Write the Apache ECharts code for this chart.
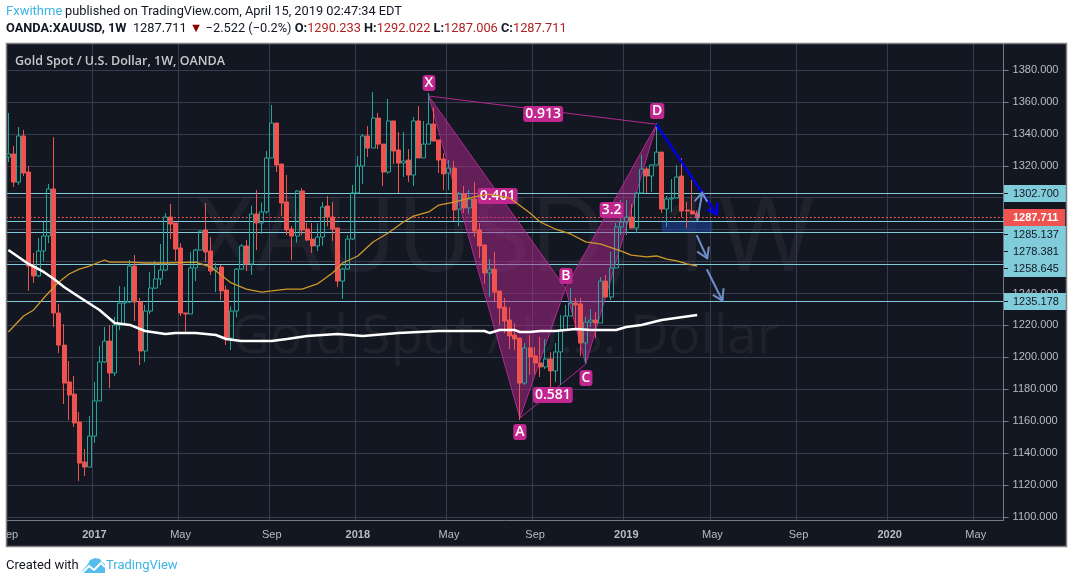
<!DOCTYPE html>
<html>
<head>
<meta charset="utf-8">
<title>XAUUSD 1W</title>
<script src="https://cdn.jsdelivr.net/npm/echarts@6/dist/echarts.min.js"></script>
<style>
  html, body { margin: 0; padding: 0; background: #fff; }
  #main { width: 1073px; height: 584px; }
</style>
</head>
<body>
<div id="main"></div>
<script>
// weekly candles, first week 2016-09-05, last 2019-04-15
var opens = [1325.5,1327.4,1309.8,1338.7,1316.1,1257.2,1251,1266.6,1276,1305.5,1227.8,1207.7,1184.6,1177,1159.5,1134.5,1131.3,1150.7,1172.7,1197.1,
  1210.2,1190.2,1220.3,1234,1234.7,1257.2,1234.7,1204,1229,1243.4,1249.1,1254.7,1287.9,1284.2,1268.5,1227.8,1227.2,1256,1267.2,1279.8,
  1266.6,1254.7,1256.6,1242.2,1212.1,1229,1255.3,1269.8,1258.5,1289.8,1284.2,1291.1,1324.9,1346.8,1321.1,1297.3,1280.4,1276,1304.2,1280.4,
  1274.1,1269.8,1275.4,1294.8,1287.9,1281,1247.8,1255.3,1274.1,1303,1319.9,1338.7,1331.1,1349.9,1333.6,1316.1,1348.1,1329.9,1321.7,1323.6,
  1314.2,1348.1,1324.9,1333.6,1346.2,1336.2,1324.3,1315.5,1318.6,1292.9,1302.3,1293.6,1299.2,1279.8,1270.4,1252.8,1255.3,1241.6,1231.5,1223.4,
  1214,1212.1,1183.9,1205.9,1200.9,1196.5,1194,1199,1191.5,1203.4,1217.1,1225.9,1234,1233.4,1209,1222.1,1223.4,1221.5,1247.8,1237.8,
  1256,1281.7,1284.8,1287.9,1281,1303,1318,1313.6,1320.5,1328.6,1292.9,1299.2,1299.8,1313.6,1292.3,1291.7,1290.233];
var closes = [1327.4,1309.8,1338.7,1315.5,1257.2,1251,1266.6,1276,1305.5,1227.8,1207.7,1183.9,1176.4,1158.9,1133.8,1131.3,1150.7,1172.7,1197.1,1210.2,
  1190.2,1220.3,1234,1234.7,1257.2,1234.7,1204,1229,1243.4,1249.1,1254.7,1287.9,1283.5,1267.9,1227.8,1227.2,1256,1267.2,1279.2,1266,
  1254.1,1256,1241.6,1212.1,1229,1255.3,1269.8,1258.5,1289.8,1284.2,1291.1,1324.9,1346.8,1320.5,1296.7,1279.8,1276,1304.2,1279.8,1273.5,
  1269.8,1275.4,1294.2,1287.9,1280.4,1247.8,1255.3,1274.1,1303,1319.9,1338.7,1331.1,1349.9,1333.6,1316.1,1348.1,1329.3,1321.7,1323,1314.2,
  1348.1,1324.9,1333.6,1346.2,1335.5,1323.6,1314.9,1318.6,1292.3,1302.3,1293.6,1299.2,1279.2,1269.8,1252.8,1255.3,1240.9,1230.9,1222.8,1213.4,
  1211.5,1183.9,1205.9,1200.2,1196.5,1194,1199,1191.5,1203.4,1217.1,1225.9,1234,1232.8,1209,1222.1,1223.4,1221.5,1247.8,1237.8,1256,
  1281.7,1284.8,1287.9,1281,1303,1318,1313.6,1320.5,1328.6,1292.9,1299.2,1299.8,1313,1291.7,1291.7,1289.8,1287.711];
var lows = [1322.4,1306.7,1308,1313.6,1241.6,1246.6,1250.3,1260.4,1271.6,1219,1202.7,1170.8,1160.8,1156.4,1122.6,1125.7,1131.3,1146.4,1172.7,1196.5,
  1180.8,1188.3,1217.1,1220.3,1234,1222.8,1195.2,1197.1,1227.2,1242.8,1245.3,1254.1,1274.1,1260.4,1225.9,1215.3,1227.2,1247.8,1267.2,1259.7,
  1251.6,1240.9,1235.9,1207.7,1204.6,1225,1255,1254.1,1251.6,1267.2,1277.3,1290,1324.9,1316.1,1288.5,1276.6,1261,1272,1276.6,1273,
  1265.4,1266.6,1270,1282,1273,1244.1,1236.6,1255,1273.5,1303,1308.6,1325.5,1331.1,1330.5,1307.3,1314.9,1321.1,1303,1313,1309.8,
  1307.3,1324.9,1324.9,1333.6,1335.5,1315.5,1304.8,1304.8,1285.4,1282.3,1290.4,1289.8,1275.4,1262.2,1246,1237.8,1234.7,1220.3,1215.3,1205.2,
  1204.6,1160.8,1182.7,1189,1189.6,1187.7,1192.7,1181.4,1184.6,1182.7,1217.1,1225.9,1217,1200.9,1196.5,1219,1212.1,1221.5,1237.8,1235.9,
  1256,1276.6,1276.6,1281,1277.9,1303,1303,1303.6,1320.5,1290.4,1281.7,1291,1299.8,1287.9,1281,1289.8,1287.006];
var highs = [1353.1,1332.4,1344.3,1342.4,1319.9,1265.4,1274.8,1284.8,1308.6,1338,1233.4,1220.9,1197.7,1188.3,1165.8,1142.6,1163.3,1184.6,1207.1,1219,
  1220.3,1225.3,1244.7,1244.1,1261,1264.1,1237.2,1232.8,1253.5,1260.4,1271,1290.4,1296.1,1284.2,1271.6,1227.8,1266,1268,1279.5,1296.7,
  1275.4,1259.1,1257.9,1245,1232,1256,1271,1273.5,1295,1304.8,1297,1329.3,1358.1,1346.8,1321.1,1314.2,1282.3,1304.8,1306.1,1284.2,
  1284.2,1284,1297.3,1301,1297.3,1281,1256,1276.6,1308,1326.1,1339.9,1344.9,1366.2,1353.1,1333.6,1361.8,1348.1,1341.2,1341.2,1330.5,
  1350.6,1357.4,1348,1365.6,1356.8,1336.2,1328,1323.6,1323,1303.6,1307.3,1304.8,1309.8,1284.2,1270.4,1261.6,1266,1241.6,1237.2,1231.5,
  1221.5,1212.1,1209,1214,1206.5,1212.8,1211.5,1203.4,1209,1226.5,1232.8,1243.4,1237.2,1237.2,1225.3,1230.3,1228.4,1250.3,1251.6,1266,
  1284.2,1298.6,1298.6,1296.1,1303,1326.8,1319.2,1321,1346.8,1328.6,1301.1,1311.7,1320.5,1324.9,1297.3,1311.1,1292.022];

// moving averages, read at the bends: week number + price
var maOrangeWeeks = [0,3,5,7,9,10,12,14,16,19,20,24,27,31,37,40,42,44,47,50,52,55,57,58,61,64,66,69,72,75,78,80,83,85,88,92,95,99,103,105,108,111,114,117,121,123,126,128,130,132,134,136];
var maOrange = [1215.9,1225.9,1229.7,1237.2,1244.1,1247.2,1252.2,1255.3,1257.2,1261,1259.7,1259.7,1259.1,1259.1,1259.7,1256.6,1251.6,1246.6,1242.8,1240.9,1241.6,1242.8,1242.8,1242.8,1246,1252.8,1259.1,1263.5,1272.3,1277.9,1284.8,1288.5,1291.1,1295.4,1297.3,1300.5,1302.3,1299.8,1290.4,1284.8,1280.4,1277.3,1272.3,1271,1266.6,1264.1,1262.9,1263.5,1261.6,1260.4,1258.5,1257.2];
var maWhiteWeeks = [0,2,4,7,9,11,14,18,21,24,27,31,33,37,41,43,46,52,55,59,65,70,77,85,94,95,97,100,101,103,105,108,112,115,120,122,125,129,136];
var maWhite = [1267.2,1262.9,1258.5,1253.5,1249.1,1244.1,1237.8,1229.7,1221.5,1220.3,1216.5,1214.6,1215.3,1215.3,1214,1211.5,1210.2,1210.2,1211.5,1213.4,1214.6,1213.4,1215.3,1216.5,1216.5,1215.3,1217.1,1217.1,1215.9,1215.9,1216.5,1216.5,1217.8,1217.1,1217.1,1219,1220.3,1223.4,1226.5];

// horizontal levels and axes
var levelPrices = [1302.7,1285.137,1278.381,1258.645,1235.178];
var lastPrice = 1287.711;
var boxWeeks = [129,139];
var boxPrices = [1284.8,1278.5];
var priceTicks = [1100,1120,1140,1160,1180,1200,1220,1240,1260,1280,1300,1320,1340,1360,1380];
var weekCount = 197;
var timeTickWeeks = [0,17,34,52,69,87,104,122,139,156,174,191];
var timeTickLabels = ['Sep','2017','May','Sep','2018','May','Sep','2019','May','Sep','2020','May'];

// harmonic pattern X A B C D
var patternWeeks = [83,101,110,114,128];
var patternPrices = [1363.7,1162,1243.4,1195.8,1346];
// pills on the pattern
var pillTexts = ['X','A','B','C','D','0.913','0.401','0.581','3.2'];
var pillWeeks = [83.05,101,110.1,114.05,128.1,105.6,96.6,107.5,119.1];
var pillPrices = [1371.9,1153.3,1251,1187.1,1354.3,1352.5,1301.1,1176.4,1292.3];
// hand drawn arrows: shaft and head, week number + price
var arrows = [
  {color:'#0000e6', width:2.5,
    weeks:[127.9,139.86], prices:[1346,1289.6], headWeeks:[137.9,139.86,140], headPrices:[1292.7,1289.6,1296.9]},
  {color:'#6f8fc9', width:2,
    weeks:[136,137], prices:[1285.6,1302.8], headWeeks:[135.5,137,138], headPrices:[1297.9,1303.1,1297.5]},
  {color:'#6f8fc9', width:2,
    weeks:[135.9,138], prices:[1276.6,1262.1], headWeeks:[136,138,138.3], headPrices:[1266.2,1262.1,1269.3]},
  {color:'#6f8fc9', width:2,
    weeks:[137.9,141], prices:[1255.2,1235.5], headWeeks:[139.1,141,141.2], headPrices:[1239.1,1235.5,1243.3]}
];

var categories = [];
for (var w = 0; w < weekCount; w++) {
  var d = new Date(Date.UTC(2016, 8, 5 + w * 7));
  categories.push(d.toISOString().slice(0, 10));
}

function pairs(xs, ys) {
  return xs.map(function (x, i) { return [x, ys[i]]; });
}

// category scale rounds to whole weeks, so add the fraction back by hand
function coordAt(api, x, y) {
  var base = Math.floor(x);
  var p = api.coord([base, y]);
  p[0] += (x - base) * api.size([1, 0])[0];
  return p;
}

var myChart = echarts.init(document.getElementById('main'));

var sansFont = '"Liberation Sans", Arial, sans-serif';
var headFont = '"Open Sans", sans-serif';
var topFont = 'Roboto, sans-serif';
var dark = '#131722';
var labelBlue = '#80ccdb';

// right hand price tags
var tagElements = [
  {type:'rect', z:20, shape:{x:1004,y:185,width:62,height:17}, style:{fill:labelBlue}},
  {type:'rect', z:20, shape:{x:1004,y:226,width:62,height:51}, style:{fill:labelBlue}},
  {type:'rect', z:20, shape:{x:1004,y:293,width:62,height:17}, style:{fill:labelBlue}},
  {type:'rect', z:21, shape:{x:1004,y:209,width:61,height:17}, style:{fill:'#ef5350'}},
  {type:'text', z:22, x:1013, y:217.5, style:{text:lastPrice.toFixed(3), fill:'#fff', font:'bold 11px '+sansFont, textVerticalAlign:'middle'}}
];
var tagYs = [193,234,251,268,301];
levelPrices.forEach(function (v, i) {
  tagElements.push({type:'text', z:22, x:1013, y:tagYs[i]+0.5, style:{text:v.toFixed(3), fill:dark, font:'11px '+sansFont, textVerticalAlign:'middle'}});
  tagElements.push({type:'rect', z:22, shape:{x:1004,y:tagYs[i],width:4,height:1}, style:{fill:dark}});
});

var option = {
  animation: false,
  backgroundColor: '#fff',
  grid: {left: 5.8, top: 44, width: 997.8, height: 476, containLabel: false, outerBoundsMode: 'none'},
  xAxis: {
    type: 'category',
    data: categories,
    boundaryGap: true,
    axisLine: {lineStyle: {color: '#787b86'}},
    axisTick: {
      alignWithLabel: true, length: 4, lineStyle: {color: '#787b86'},
      interval: function (i) { return timeTickWeeks.indexOf(i) >= 0; }
    },
    splitLine: {
      show: true, lineStyle: {color: '#363c4e'},
      interval: function (i) { return timeTickWeeks.indexOf(i) >= 0; }
    },
    axisLabel: {
      margin: 9, fontSize: 11, fontFamily: sansFont, color: '#b9bcc4',
      interval: function (i) { return timeTickWeeks.indexOf(i) >= 0; },
      formatter: function (v, i) {
        var t = timeTickLabels[timeTickWeeks.indexOf(i)];
        return /^\d/.test(t) ? '{y|' + t + '}' : t;
      },
      rich: {y: {fontWeight: 'bold', fontSize: 11, fontFamily: sansFont, color: '#b9bcc4'}}
    }
  },
  yAxis: {
    type: 'value',
    position: 'right',
    min: 1098.12,
    max: 1396.3,
    scale: true,
    axisLine: {show: true, lineStyle: {color: '#787b86'}},
    axisTick: {show: true, length: 5, lineStyle: {color: '#787b86'}, customValues: priceTicks},
    splitLine: {show: true, lineStyle: {color: '#363c4e'}},
    axisLabel: {
      margin: 9, fontSize: 11, fontFamily: sansFont, color: '#b9bcc4',
      padding: [2, 0, 0, 0],
      customValues: priceTicks,
      formatter: function (v) { return v.toFixed(3); }
    }
  },
  series: [
    {
      name: 'levels',
      type: 'line',
      data: [],
      z: 1,
      markLine: {
        z: 1, silent: true, symbol: 'none', animation: false,
        label: {show: false},
        lineStyle: {color: labelBlue, width: 1, type: 'solid'},
        data: levelPrices.map(function (v) { return {yAxis: v}; }).concat([
          {yAxis: lastPrice, lineStyle: {color: '#ef5350', type: [2, 2], width: 1}}
        ])
      },
      markArea: {
        z: 1, silent: true, animation: false,
        itemStyle: {color: 'rgba(30,70,160,0.55)'},
        data: [[{xAxis: boxWeeks[0], yAxis: boxPrices[0]}, {xAxis: boxWeeks[1], yAxis: boxPrices[1]}]]
      }
    },
    {
      name: 'pattern',
      type: 'custom',
      z: 2,
      silent: true,
      data: [0],
      renderItem: function (params, api) {
        var p = pairs(patternWeeks, patternPrices).map(function (c) { return coordAt(api, c[0], c[1]); });
        var tri = {fill: 'rgba(178,40,142,0.5)', stroke: '#b2288e', lineWidth: 1};
        return {
          type: 'group',
          children: [
            {type: 'polygon', shape: {points: [p[0], p[1], p[2]]}, style: tri},
            {type: 'polygon', shape: {points: [p[2], p[3], p[4]]}, style: tri},
            {type: 'line', shape: {x1: p[0][0], y1: p[0][1], x2: p[4][0], y2: p[4][1]}, style: {stroke: '#b2288e', lineWidth: 1}},
            {type: 'line', shape: {x1: p[1][0], y1: p[1][1], x2: p[3][0], y2: p[3][1]}, style: {stroke: '#b2288e', lineWidth: 1}}
          ]
        };
      }
    },
    {
      name: 'XAUUSD',
      type: 'candlestick',
      z: 3,
      barWidth: 4.5,
      data: opens.map(function (o, i) { return [o, closes[i], lows[i], highs[i]]; }),
      itemStyle: {color: 'transparent', color0: '#ef5350', borderColor: '#26a69a', borderColor0: '#ef5350', borderWidth: 1}
    },
    {
      name: 'pills',
      type: 'custom',
      z: 4,
      silent: true,
      data: [0],
      renderItem: function (params, api) {
        return {
          type: 'group',
          children: pillTexts.map(function (t, i) {
            var p = coordAt(api, pillWeeks[i], pillPrices[i]);
            return {
              type: 'text', x: p[0], y: p[1],
              style: {
                text: t, fill: '#fff', font: '600 14px ' + headFont, align: 'center', verticalAlign: 'middle',
                backgroundColor: '#c2278f', borderRadius: 3, padding: [1, 2]
              }
            };
          })
        };
      }
    },
    {
      name: 'MA orange',
      type: 'line',
      z: 5,
      showSymbol: false,
      data: pairs(maOrangeWeeks, maOrange),
      lineStyle: {color: '#d0992a', width: 1.3}
    },
    {
      name: 'MA white',
      type: 'line',
      z: 5,
      showSymbol: false,
      data: pairs(maWhiteWeeks, maWhite),
      lineStyle: {color: '#fff', width: 2.5}
    },
    {
      name: 'arrows',
      type: 'custom',
      z: 6,
      silent: true,
      data: [0],
      renderItem: function (params, api) {
        var kids = [];
        arrows.forEach(function (a) {
          var st = {stroke: a.color, lineWidth: a.width, fill: 'none'};
          kids.push({type: 'polyline', shape: {points: pairs(a.weeks, a.prices).map(function (c) { return coordAt(api, c[0], c[1]); })}, style: st});
          kids.push({type: 'polyline', shape: {points: pairs(a.headWeeks, a.headPrices).map(function (c) { return coordAt(api, c[0], c[1]); })}, style: st});
        });
        return {type: 'group', children: kids};
      }
    }
  ],
  graphic: {
    elements: [
      // dark panel behind the plot and the axes
      {type: 'rect', z: -10, shape: {x: 6, y: 43, width: 1061, height: 504}, style: {fill: dark}},
      // faint watermark
      {type: 'text', z: -1, x: 505, y: 241, style: {text: 'XAUUSD, 1W', fill: 'rgba(255,255,255,0.05)', font: '104px "Open Sans", sans-serif', textAlign: 'center', textVerticalAlign: 'middle'}},
      {type: 'text', z: -1, x: 505, y: 338, style: {text: 'Gold Spot / U.S. Dollar', fill: 'rgba(255,255,255,0.05)', font: '53px "Open Sans", sans-serif', textAlign: 'center', textVerticalAlign: 'middle'}},
      // title inside the panel
      {type: 'text', z: 10, x: 15, y: 61, style: {text: 'Gold Spot / U.S. Dollar, 1W, OANDA', fill: '#c8c9cc', font: '600 12.5px ' + headFont, textVerticalAlign: 'middle'}},
      // white mask clips the first time label on the panel edge, then the frame
      {type: 'rect', z: 30, shape: {x: 0, y: 44, width: 6, height: 510}, style: {fill: '#fff'}},
      {type: 'rect', z: 31, shape: {x: 6.5, y: 43.5, width: 1060, height: 503}, style: {fill: 'none', stroke: '#7f7f7f', lineWidth: 1.5}},
      // header
      {type: 'text', z: 10, x: 6, y: 12, style: {text: 'Fxwithme', fill: '#3bb3e4', font: '13px ' + topFont, textVerticalAlign: 'middle'}},
      {type: 'text', z: 10, x: 65, y: 12, style: {text: 'published on TradingView.com, April 15, 2019 02:47:34 EDT', fill: '#131722', font: '12.8px ' + topFont, textVerticalAlign: 'middle'}},
      {type: 'text', z: 10, x: 6, y: 29, style: {
        text: '{b|OANDA:XAUUSD, 1W}  1287.711 {d|▼} −2.522 (−0.2%) {b|O:}{r|1290.233} {b|H:}{r|1292.022} {b|L:}{r|1287.006} {b|C:}{r|1287.711}',
        fill: '#131722', font: '12.8px ' + topFont, textVerticalAlign: 'middle',
        rich: {
          b: {fill: '#131722', font: 'bold 12.8px ' + topFont},
          r: {fill: '#b22222', font: '12.8px ' + topFont},
          d: {fill: '#8b0000', font: '12.8px ' + topFont}
        }
      }},
      // footer
      {type: 'text', z: 10, x: 6, y: 566, style: {text: 'Created with', fill: '#131722', font: '13px ' + topFont, textVerticalAlign: 'middle'}},
      {type: 'text', z: 10, x: 106, y: 566, style: {text: 'TradingView', fill: '#3bb3e4', font: '13px ' + topFont, textVerticalAlign: 'middle'}},
      {type: 'polygon', z: 10, shape: {points: [[82, 571], [88, 564], [90, 560], [95, 558], [100, 559], [102, 562], [105, 564], [105, 573], [84, 573]]}, style: {fill: '#55bdec'}},
      {type: 'polyline', z: 11, shape: {points: [[82, 573], [89, 566], [94, 570], [101, 563], [105, 567]]}, style: {stroke: '#fff', lineWidth: 2, fill: 'none'}}
    ].concat(tagElements)
  }
};

myChart.setOption(option);
</script>
</body>
</html>
